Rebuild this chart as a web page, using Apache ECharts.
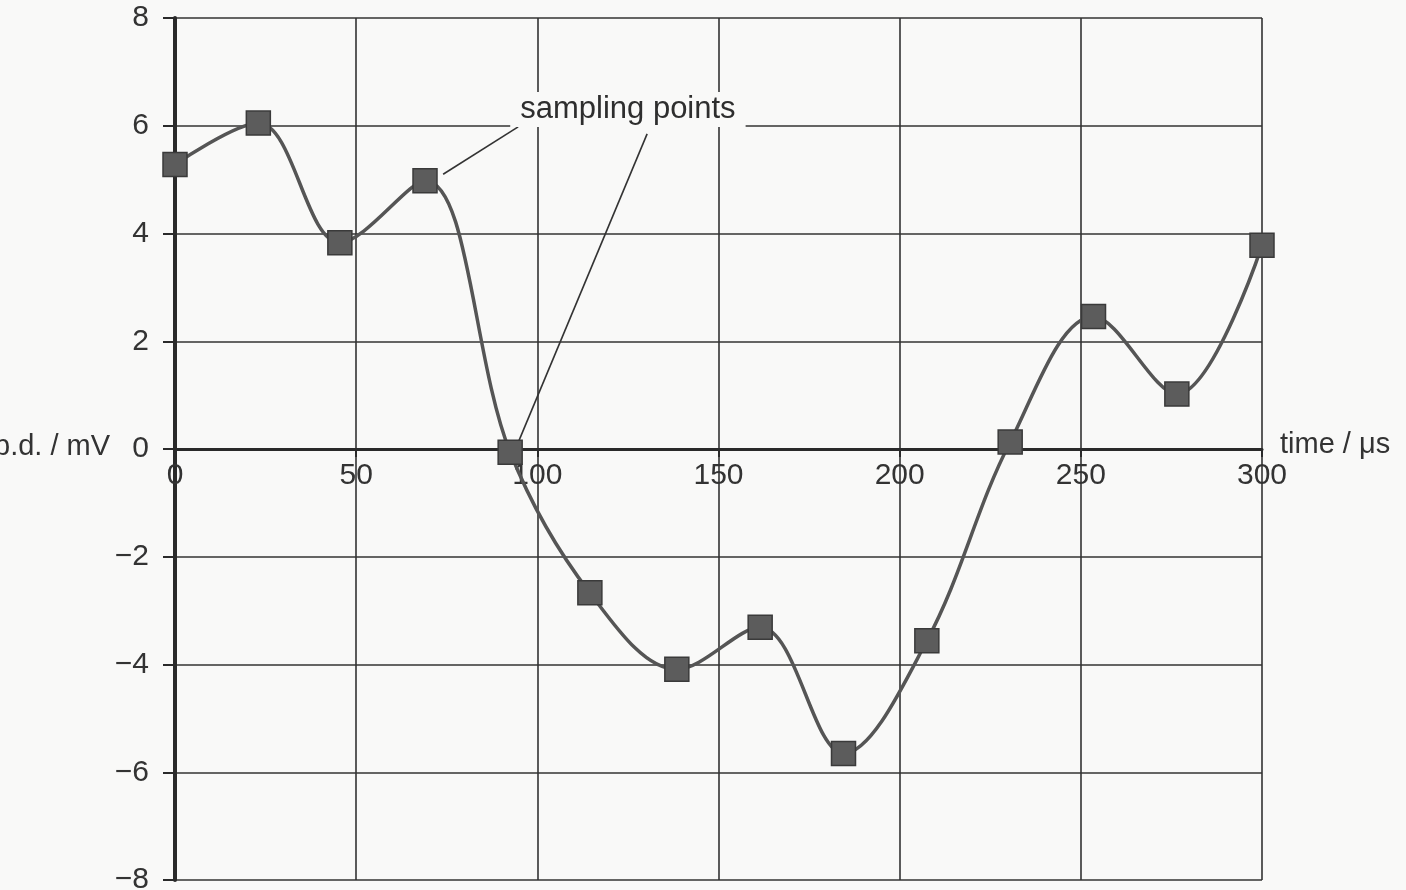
<!DOCTYPE html>
<html>
<head>
<meta charset="utf-8">
<script src="https://cdn.jsdelivr.net/npm/echarts@6/dist/echarts.min.js"></script>
<style>
html,body{margin:0;padding:0;background:#f9f9f8;}
#c{width:1406px;height:890px;}
</style>
</head>
<body>
<div id="c"></div>
<script>
var timeValues = [0, 23, 45.5, 69, 92.5, 114.5, 138.5, 161.5, 184.5, 207.5, 230.5, 253.5, 276.5, 300];
var pdValues = [5.28, 6.05, 3.83, 4.98, -0.06, -2.67, -4.09, -3.31, -5.65, -3.56, 0.13, 2.46, 1.02, 3.78];
var xTicks = [0, 50, 100, 150, 200, 250, 300];
var yTicks = [-8, -6, -4, -2, 0, 2, 4, 6, 8];
var annotationText = 'sampling points';
var annotationPos = [125, 6.3];
var leaderLines = [
  [[74, 5.1], [94.7, 5.98]],
  [[130.3, 5.85], [94.9, 0.15]]
];

var font = '"Liberation Sans", Arial, sans-serif';
var pts = timeValues.map(function (t, i) { return [t, pdValues[i]]; });

var gridTop = 18, gridBottom = 10, H = 890;
var zeroOffset = -((H - gridTop - gridBottom) / 2);

var chart = echarts.init(document.getElementById('c'));
chart.setOption({
  backgroundColor: '#f9f9f8',
  animation: false,
  grid: { left: 175, right: 144, top: gridTop, bottom: gridBottom, containLabel: false, outerBoundsMode: 'none' },
  xAxis: {
    type: 'value', min: 0, max: 300, interval: 50,
    position: 'bottom', offset: zeroOffset,
    name: 'time / μs', nameLocation: 'end', nameGap: 18,
    nameTextStyle: { fontFamily: font, fontSize: 29, color: '#333', verticalAlign: 'bottom', padding: [0, 0, -10, 0] },
    axisLine: { onZero: false, lineStyle: { color: '#2a2a2a', width: 3 } },
    axisTick: { show: true, length: 8, inside: false, lineStyle: { color: '#2a2a2a', width: 2 } },
    axisLabel: { fontFamily: font, fontSize: 30, color: '#333', margin: 12 },
    splitLine: { show: true, lineStyle: { color: '#333', width: 1.6 } }
  },
  yAxis: {
    type: 'value', min: -8, max: 8, interval: 2,
    axisLine: { show: true, onZero: false, lineStyle: { color: '#2a2a2a', width: 4 } },
    axisTick: { show: true, length: 12, lineStyle: { color: '#2a2a2a', width: 2 } },
    axisLabel: {
      fontFamily: font, fontSize: 30, color: '#333', margin: 26,
      formatter: function (v) { return String(v).replace('-', '\u2212'); }
    },
    splitLine: { show: true, lineStyle: { color: '#333', width: 1.6 } }
  },
  series: [
    {
      type: 'line',
      data: pts,
      smooth: 0.35,
      symbol: 'rect',
      symbolSize: 24,
      z: 5,
      lineStyle: { color: '#555', width: 3.5 },
      itemStyle: { color: '#5c5c5c', borderColor: '#3a3a3a', borderWidth: 1.5 },
      markLine: {
        silent: true,
        symbol: ['none', 'none'],
        label: { show: false },
        lineStyle: { color: '#333', width: 1.6, type: 'solid' },
        data: leaderLines.map(function (l) {
          return [{ coord: l[0] }, { coord: l[1] }];
        })
      }
    },
    {
      type: 'scatter',
      data: [annotationPos],
      symbolSize: 1,
      itemStyle: { color: 'rgba(0,0,0,0)', opacity: 1 },
      z: 6,
      label: {
        show: true, position: 'inside', formatter: annotationText,
        fontFamily: font, fontSize: 31, color: '#2e2e2e',
        backgroundColor: '#f9f9f8', padding: [2, 10]
      }
    }
  ],
  graphic: [
    {
      type: 'text', left: -6, top: 432,
      style: { text: 'p.d. / mV', font: '29px ' + font, fill: '#333' }
    }
  ]
});
</script>
</body>
</html>
